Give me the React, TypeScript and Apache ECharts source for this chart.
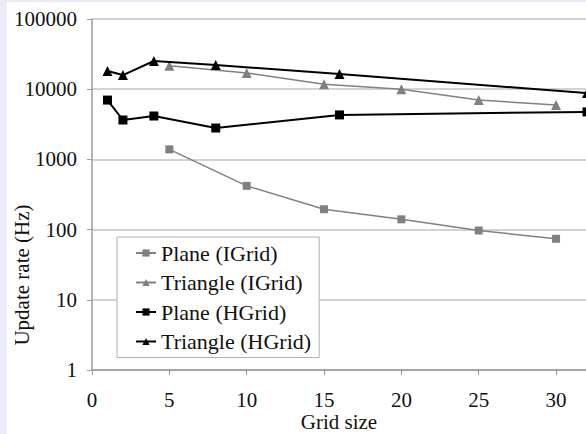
import React, { useEffect, useRef } from "react";
import * as echarts from "echarts";

const seriesNames = ["Plane (IGrid)", "Triangle (IGrid)", "Plane (HGrid)", "Triangle (HGrid)"];
const iGridSizes = [5, 10, 15, 20, 25, 30];
const hGridSizes = [1, 2, 4, 8, 16, 32];
const planeIGrid = [1390, 420, 195, 140, 97, 74];
const triangleIGrid = [21500, 17000, 11800, 10000, 7000, 5950];
const planeHGrid = [7000, 3640, 4150, 2800, 4300, 4750];
const triangleHGrid = [18200, 15900, 25200, 22100, 16400, 8800];
const xTicks = [0, 5, 10, 15, 20, 25, 30];
const yTicks = [1, 10, 100, 1000, 10000, 100000];

const FONT = "'Liberation Serif', 'Times New Roman', serif";

function pairs(xs: number[], ys: number[]) {
  return xs.map((x, i) => [x, ys[i]]);
}

export default function App() {
  const ref = useRef<HTMLDivElement>(null);
  useEffect(() => {
    if (!ref.current) return;
    const chart = echarts.init(ref.current, null, { renderer: "svg" });
    const gray = "#808080";
    const black = "#000000";
    chart.setOption({
      animation: false,
      backgroundColor: "#ffffff",
      textStyle: { fontFamily: FONT },
      grid: { left: 85, top: 17, width: 495, height: 351, outerBoundsMode: "none", containLabel: false },
      xAxis: {
        type: "value",
        min: xTicks[0],
        max: 32,
        interval: xTicks[1] - xTicks[0],
        axisLine: { show: true, lineStyle: { color: "#9a9a9a", width: 1.5 } },
        axisTick: { show: true, length: 5, lineStyle: { color: "#9a9a9a" } },
        axisLabel: { fontFamily: FONT, fontSize: 21, lineHeight: 19, color: "#111", margin: 20, showMaxLabel: false },
        splitLine: { show: false },
      },
      yAxis: {
        type: "log",
        logBase: 10,
        min: yTicks[0],
        max: yTicks[yTicks.length - 1],
        axisLine: { show: true, onZero: false, lineStyle: { color: "#9a9a9a", width: 1.5 } },
        axisTick: { show: true, length: 5, lineStyle: { color: "#9a9a9a" } },
        axisLabel: { fontFamily: FONT, fontSize: 21, color: "#111", margin: 15, formatter: (v: number) => String(v) },
        splitLine: { show: true, lineStyle: { color: "#c4c4c4", width: 1.5 } },
        minorTick: { show: false },
      },
      legend: {
        orient: "vertical",
        left: 110,
        top: 235,
        padding: [5, 8, 5, 18],
        itemGap: 7.5,
        itemWidth: 20,
        itemHeight: 9,
        backgroundColor: "#ffffff",
        borderColor: "#b0b0b0",
        borderWidth: 1,
        borderRadius: 0,
        textStyle: { fontFamily: FONT, fontSize: 22, color: "#111", lineHeight: 20 },
        data: seriesNames,
      },
      graphic: [
        {
          type: "text",
          x: 15,
          y: 273,
          rotation: Math.PI / 2,
          style: {
            text: "Update rate (Hz)",
            fontFamily: FONT,
            fontSize: 21,
            fill: "#111",
            align: "center",
            verticalAlign: "middle",
          },
        },
        {
          type: "text",
          x: 332,
          y: 420,
          style: {
            text: "Grid size",
            fontFamily: FONT,
            fontSize: 21,
            lineHeight: 18,
            fill: "#111",
            align: "center",
            verticalAlign: "middle",
          },
        },
      ],
      series: [
        {
          name: seriesNames[0],
          type: "line",
          data: pairs(iGridSizes, planeIGrid),
          symbol: "rect",
          symbolSize: 8,
          lineStyle: { color: gray, width: 1.5 },
          itemStyle: { color: gray },
          z: 3,
        },
        {
          name: seriesNames[1],
          type: "line",
          data: pairs(iGridSizes, triangleIGrid),
          symbol: "triangle",
          symbolSize: 10,
          lineStyle: { color: gray, width: 1.5 },
          itemStyle: { color: gray },
          z: 3,
        },
        {
          name: seriesNames[2],
          type: "line",
          data: pairs(hGridSizes, planeHGrid),
          symbol: "rect",
          symbolSize: 9,
          lineStyle: { color: black, width: 2 },
          itemStyle: { color: black },
          z: 4,
        },
        {
          name: seriesNames[3],
          type: "line",
          data: pairs(hGridSizes, triangleHGrid),
          symbol: "triangle",
          symbolSize: 10,
          lineStyle: { color: black, width: 2 },
          itemStyle: { color: black },
          z: 4,
        },
      ],
    });
    return () => chart.dispose();
  }, []);
  return (
    <div style={{ position: "fixed", left: 0, top: 0, width: 586, height: 434, background: "#ebebfa", overflow: "hidden" }}>
      <div ref={ref} style={{ position: "absolute", left: 7, top: 2, width: 579, height: 432 }} />
    </div>
  );
}
